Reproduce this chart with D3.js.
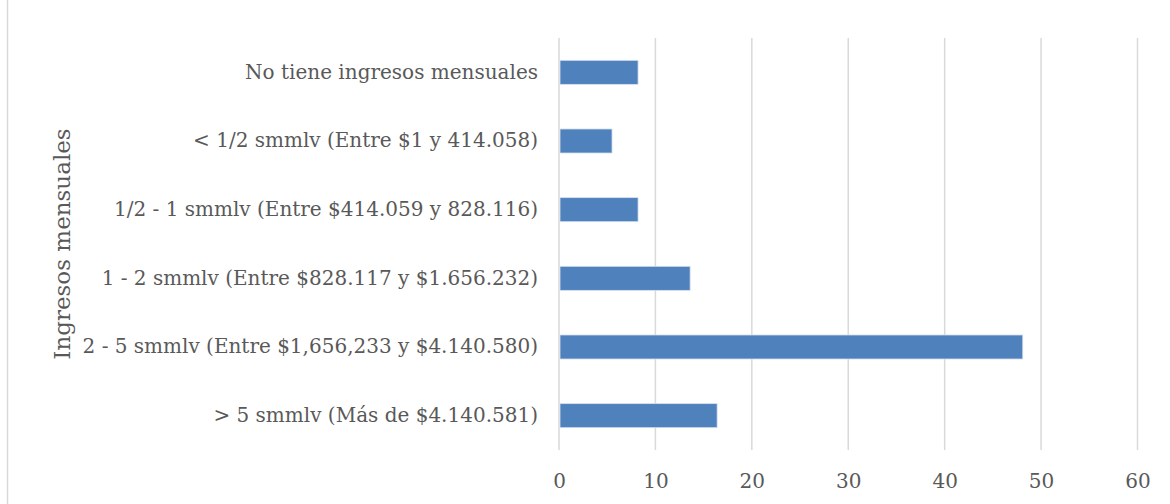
<!DOCTYPE html>
<html lang="es">
<head>
    <meta charset="UTF-8">
    <title>Ingresos mensuales</title>
    <script src="https://d3js.org/d3.v7.min.js"></script>
</head>
<style>
    body { margin: 0; background: #fff; }
    text { font-family: "DejaVu Serif", serif; fill: #595959; }
    .grid line { stroke: #d9d9d9; stroke-width: 1.5px; }
</style>
<body>
<div class="chart"></div>
<script>
    var categories = [
        "No tiene ingresos mensuales",
        "< 1/2 smmlv (Entre $1 y 414.058)",
        "1/2 - 1 smmlv (Entre $414.059 y 828.116)",
        "1 - 2 smmlv (Entre $828.117 y $1.656.232)",
        "2 - 5 smmlv (Entre $1,656,233 y $4.140.580)",
        "> 5 smmlv (Más de $4.140.581)"
    ];
    var values = [8.2, 5.5, 8.2, 13.6, 48.1, 16.4];
    var xTicks = [0, 10, 20, 30, 40, 50, 60];

    var width = 1170, height = 504;
    var margin = {top: 38, right: 32, bottom: 54, left: 559};
    var font = '"DejaVu Serif", serif';

    var svg = d3.select('.chart')
        .append('svg')
            .attr('width', width)
            .attr('height', height);

    // chart frame (left edge only visible)
    svg.append('line')
        .attr('x1', 7.5).attr('x2', 7.5)
        .attr('y1', 0).attr('y2', height)
        .attr('stroke', '#d9d9d9')
        .attr('stroke-width', 1.5);

    var x = d3.scaleLinear().domain([0, 60]).range([margin.left, width - margin.right - 0.5]);
    var y = d3.scaleBand().domain(categories)
        .range([margin.top, height - margin.bottom])
        .paddingInner(0.65).paddingOuter(0.325);

    svg.append('g')
        .attr('class', 'grid')
        .selectAll('line')
        .data(xTicks)
        .enter().append('line')
            .attr('x1', function(d) { return x(d); })
            .attr('x2', function(d) { return x(d); })
            .attr('y1', margin.top)
            .attr('y2', height - margin.bottom);

    svg.append('g')
        .selectAll('rect')
        .data(values)
        .enter().append('rect')
            .attr('x', x(0) + 1)
            .attr('y', function(d, i) { return y(categories[i]); })
            .attr('width', function(d) { return x(d) - x(0) - 1; })
            .attr('height', y.bandwidth())
            .attr('fill', '#4f81bd')
            .attr('stroke', '#d6e1ef')
            .attr('stroke-width', 0.8);

    var xAxis = svg.append('g')
        .attr('transform', 'translate(0,' + (height - margin.bottom) + ')')
        .call(d3.axisBottom(x).tickValues(xTicks).tickSize(0).tickPadding(24));
    xAxis.select('.domain').remove();
    xAxis.selectAll('text')
        .style('font-family', font)
        .style('font-size', '20px')
        .attr('fill', '#595959');

    var yAxis = svg.append('g')
        .attr('transform', 'translate(' + margin.left + ',0)')
        .call(d3.axisLeft(y).tickSize(0).tickPadding(21));
    yAxis.select('.domain').remove();
    yAxis.selectAll('text')
        .style('font-family', font)
        .style('font-size', '20px')
        .attr('fill', '#595959');

    svg.append('text')
        .attr('transform', 'translate(70,' + ((margin.top + height - margin.bottom) / 2) + ') rotate(-90)')
        .attr('text-anchor', 'middle')
        .style('font-size', '23px')
        .text('Ingresos mensuales');
</script>
</body>
</html>
